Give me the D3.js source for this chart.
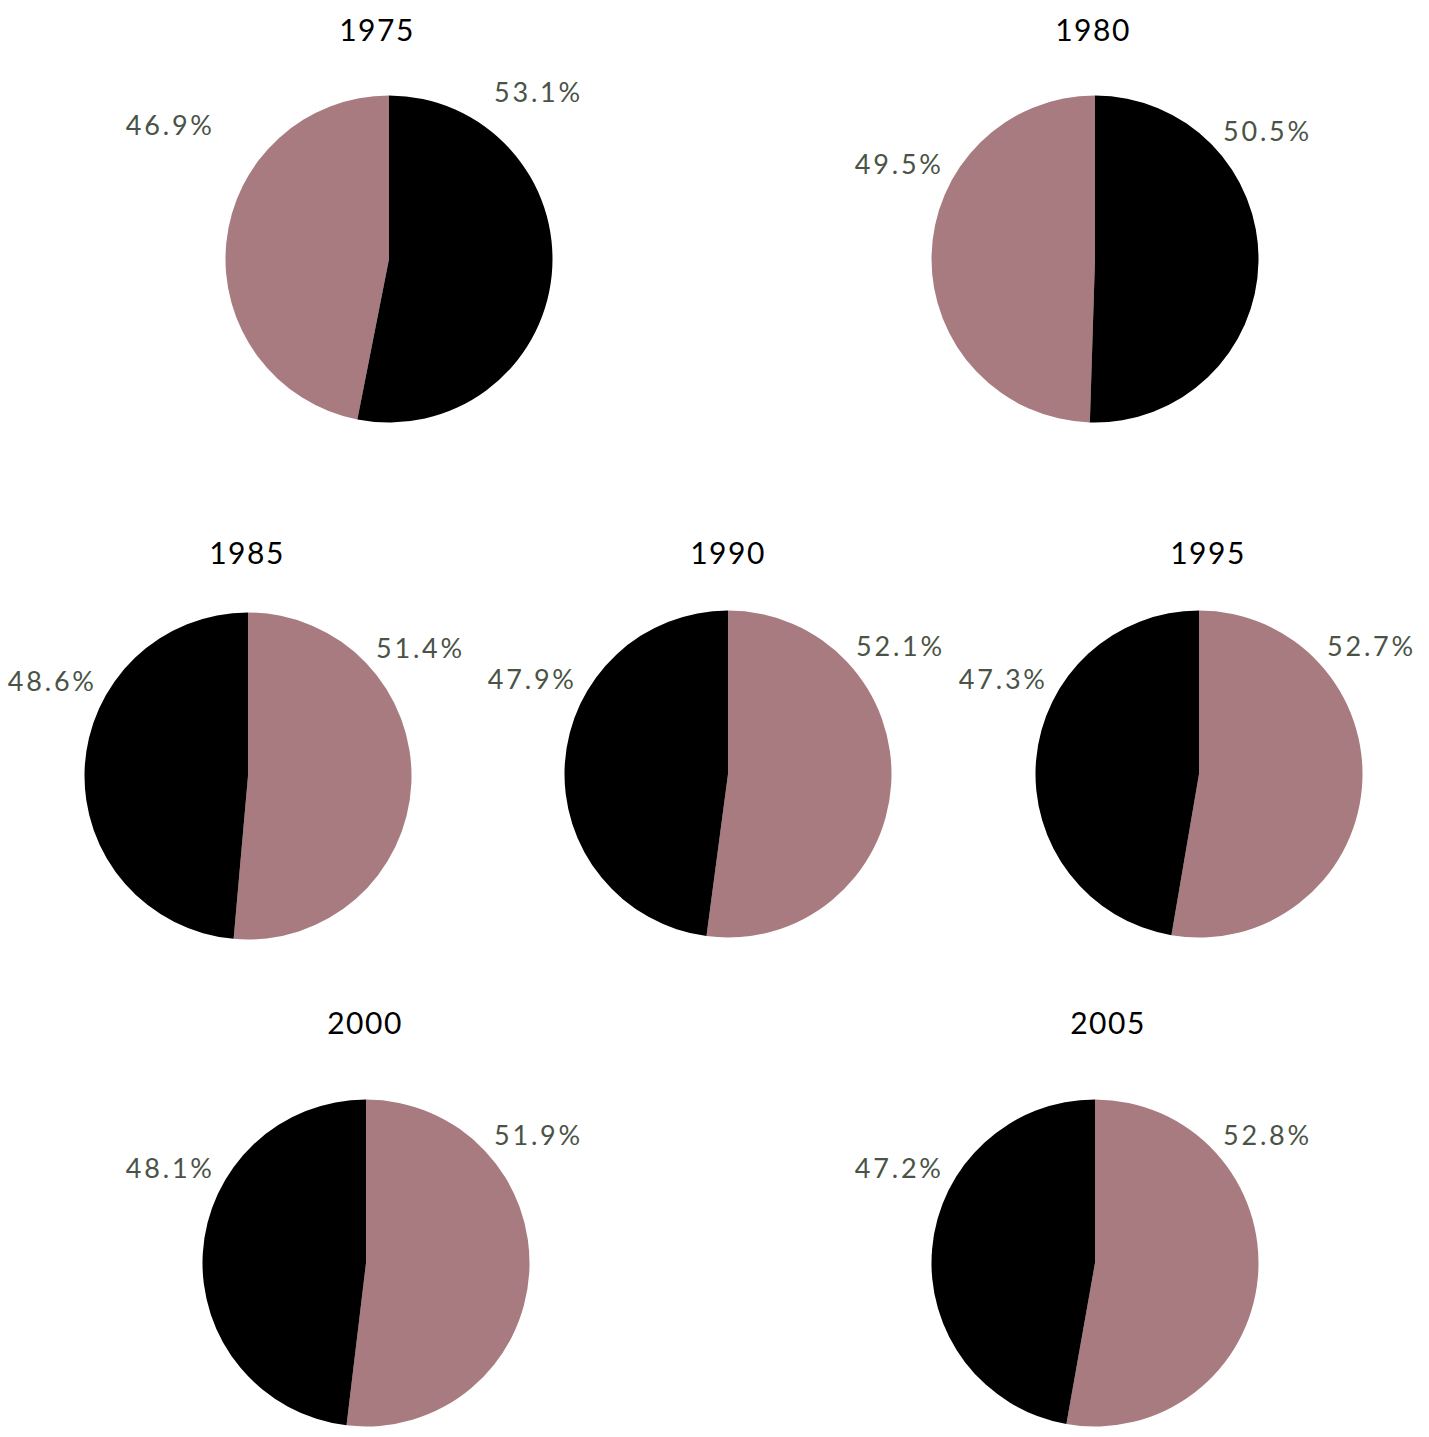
<!DOCTYPE html>
<html>
<head>
<meta charset="utf-8">
<script src="https://cdn.jsdelivr.net/npm/d3@7"></script>
<style>
  html, body { margin: 0; padding: 0; background: #ffffff; }
  svg { display: block; }
</style>
</head>
<body>
<svg id="chart" width="1429" height="1437"></svg>
<script>
// ---- data ----
const years = ["1975", "1980", "1985", "1990", "1995", "2000", "2005"];
const categories = ["Group A", "Group B"];
const groupA = [46.9, 49.5, 51.4, 52.1, 52.7, 51.9, 52.8]; // mauve
const groupB = [53.1, 50.5, 48.6, 47.9, 47.3, 48.1, 47.2]; // black

// ---- layout (positions, separate from data) ----
const centersX = [389, 1095, 248, 728, 1199, 366, 1095];
const centersY = [259, 259, 776, 774, 774, 1263, 1263];
const titleX   = [377, 1093, 247, 728, 1208, 365, 1108];
const titleY   = [41, 41, 564, 564, 564, 1034, 1034];
const labelNudgeX = [-23, 0, 0, 0, 0, 0, 0];
const labelNudgeY = [-39, 0, 0, 0, 0, 0, 0];

const radius = 163.5;
const colors = { "Group A": "#a87b81", "Group B": "#000000" };
const labelColor = "#4a5346";
const fontFamily = "Lato, 'Open Sans', sans-serif";
const labelSpacing = 2.8;

const svg = d3.select("#chart");
const color = d3.scaleOrdinal().domain(categories).range([colors["Group A"], colors["Group B"]]);
const pie = d3.pie().value(d => d.value).sort((a, b) => b.value - a.value);
const arc = d3.arc().innerRadius(0).outerRadius(radius);

years.forEach((yr, i) => {
  const data = [
    { cat: categories[0], value: groupA[i] },
    { cat: categories[1], value: groupB[i] }
  ];
  const arcs = pie(data);
  const g = svg.append("g").attr("transform", `translate(${centersX[i]},${centersY[i]})`);

  g.selectAll("path.slice")
    .data(arcs)
    .join("path")
    .attr("class", "slice")
    .attr("d", arc)
    .attr("fill", d => color(d.data.cat));

  // labels: first slice (clockwise from top) on the right, second on the left
  g.selectAll("text.lbl")
    .data(arcs)
    .join("text")
    .attr("class", "lbl")
    .attr("x", d => (d.index === 0 ? 128 : -154 + labelSpacing) + labelNudgeX[i])
    .attr("y", d => (d.index === 0 ? -118 : -85) + labelNudgeY[i])
    .attr("text-anchor", d => d.index === 0 ? "start" : "end")
    .attr("font-family", fontFamily)
    .attr("font-size", 27)
    .attr("letter-spacing", labelSpacing)
    .attr("fill", labelColor)
    .text(d => d.data.value.toFixed(1) + "%");

  svg.append("text")
    .attr("x", titleX[i])
    .attr("y", titleY[i])
    .attr("text-anchor", "middle")
    .attr("font-family", fontFamily)
    .attr("font-size", 30)
    .attr("letter-spacing", 1.5)
    .attr("fill", "#000000")
    .text(yr);
});
</script>
</body>
</html>
